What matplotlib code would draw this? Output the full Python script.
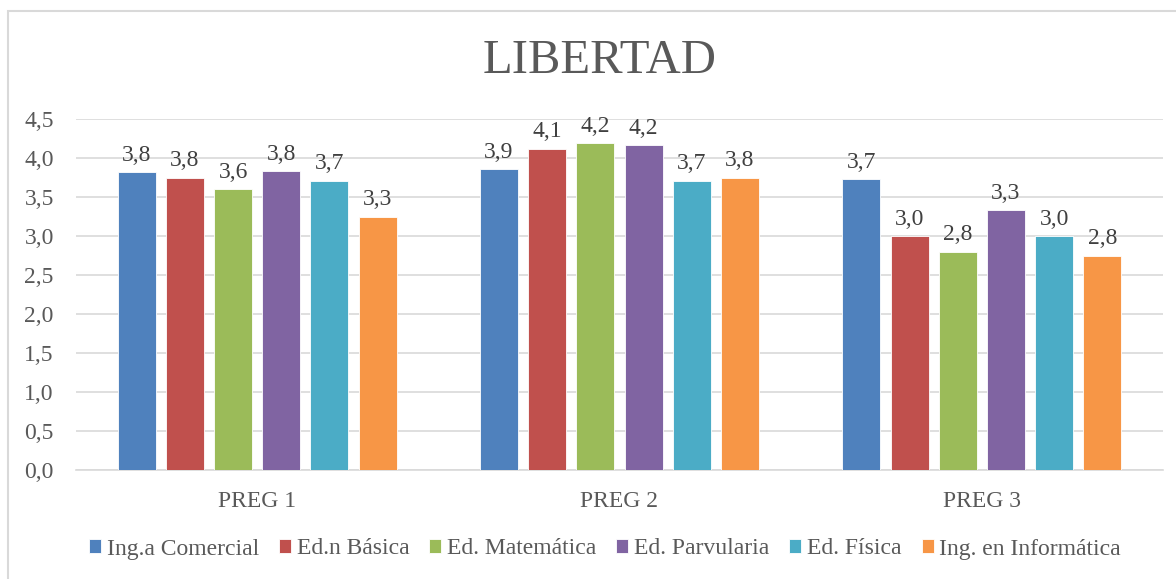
import matplotlib.pyplot as plt
from matplotlib.patches import Rectangle
from decimal import Decimal, ROUND_HALF_UP
import numpy as np

# data
categories = ["PREG 1", "PREG 2", "PREG 3"]

series_names = [
    "Ing.a Comercial",
    "Ed.n Básica",
    "Ed. Matemática",
    "Ed. Parvularia",
    "Ed. Física",
    "Ing. en Informática",
]

comercial = [3.82, 3.86, 3.73]
basica = [3.75, 4.12, 3.00]
matematica = [3.60, 4.19, 2.80]
parvularia = [3.83, 4.17, 3.33]
fisica = [3.71, 3.71, 3.00]
informatica = [3.25, 3.75, 2.75]

series_values = [comercial, basica, matematica, parvularia, fisica, informatica]

colors = ["#4F81BD", "#C0504D", "#9BBB59", "#8064A2", "#4BACC6", "#F79646"]

yticks = [0.0, 0.5, 1.0, 1.5, 2.0, 2.5, 3.0, 3.5, 4.0, 4.5]


def fmt(v):
    # excel style rounding, comma decimal
    d = Decimal(str(v)).quantize(Decimal("0.1"), rounding=ROUND_HALF_UP)
    return str(d).replace(".", ",")


plt.rcParams["font.family"] = ["Liberation Serif", "DejaVu Serif"]

fig = plt.figure(figsize=(11.76, 5.79), dpi=100)

# chart border
fig.patches.append(
    Rectangle((8 / 1176, -0.01), 1.2, 1 - 11 / 579 + 0.01,
              transform=fig.transFigure, fill=False,
              edgecolor="#D9D9D9", linewidth=1.5)
)

ax = fig.add_axes([76 / 1176, 1 - 470 / 579, (1163 - 76) / 1176, (470 - 119) / 579])

x = np.arange(len(categories))
width = 0.105
step = 0.133

for i, (name, vals) in enumerate(zip(series_names, series_values)):
    pos = x + (i - 2.5) * step
    bars = ax.bar(pos, vals, width, color=colors[i], label=name,
                  edgecolor="white", linewidth=0.6, zorder=3)
    for b, v in zip(bars, vals):
        ax.text(b.get_x() + b.get_width() / 2, v + 0.08, fmt(v),
                ha="center", va="bottom", fontsize=17, color="#404040")

ax.set_xlim(-0.5, 2.5)
ax.set_ylim(0, 4.5)
ax.set_yticks(yticks)
ax.set_yticklabels([fmt(t) for t in yticks], fontsize=17, color="#595959")
ax.set_xticks(x)
ax.set_xticklabels(categories, fontsize=17, color="#595959")
ax.tick_params(axis="both", length=0)
ax.tick_params(axis="x", pad=15)
ax.tick_params(axis="y", pad=16)

ax.grid(axis="y", color="#D9D9D9", linewidth=1.2, zorder=0)
for s in ["top", "right", "left"]:
    ax.spines[s].set_visible(False)
ax.spines["bottom"].set_color("#D9D9D9")
ax.spines["bottom"].set_linewidth(1.2)

fig.text(600 / 1176, 1 - 61 / 579, "LIBERTAD", ha="center", va="center",
         fontsize=35, color="#595959")

fig.legend(loc="center", bbox_to_anchor=(605 / 1176, 1 - 549 / 579), ncol=6,
           frameon=False, fontsize=17, handlelength=0.5, handleheight=0.5,
           handletextpad=0.25, columnspacing=0.85, labelcolor="#595959")

plt.savefig("out.png", dpi=100)
